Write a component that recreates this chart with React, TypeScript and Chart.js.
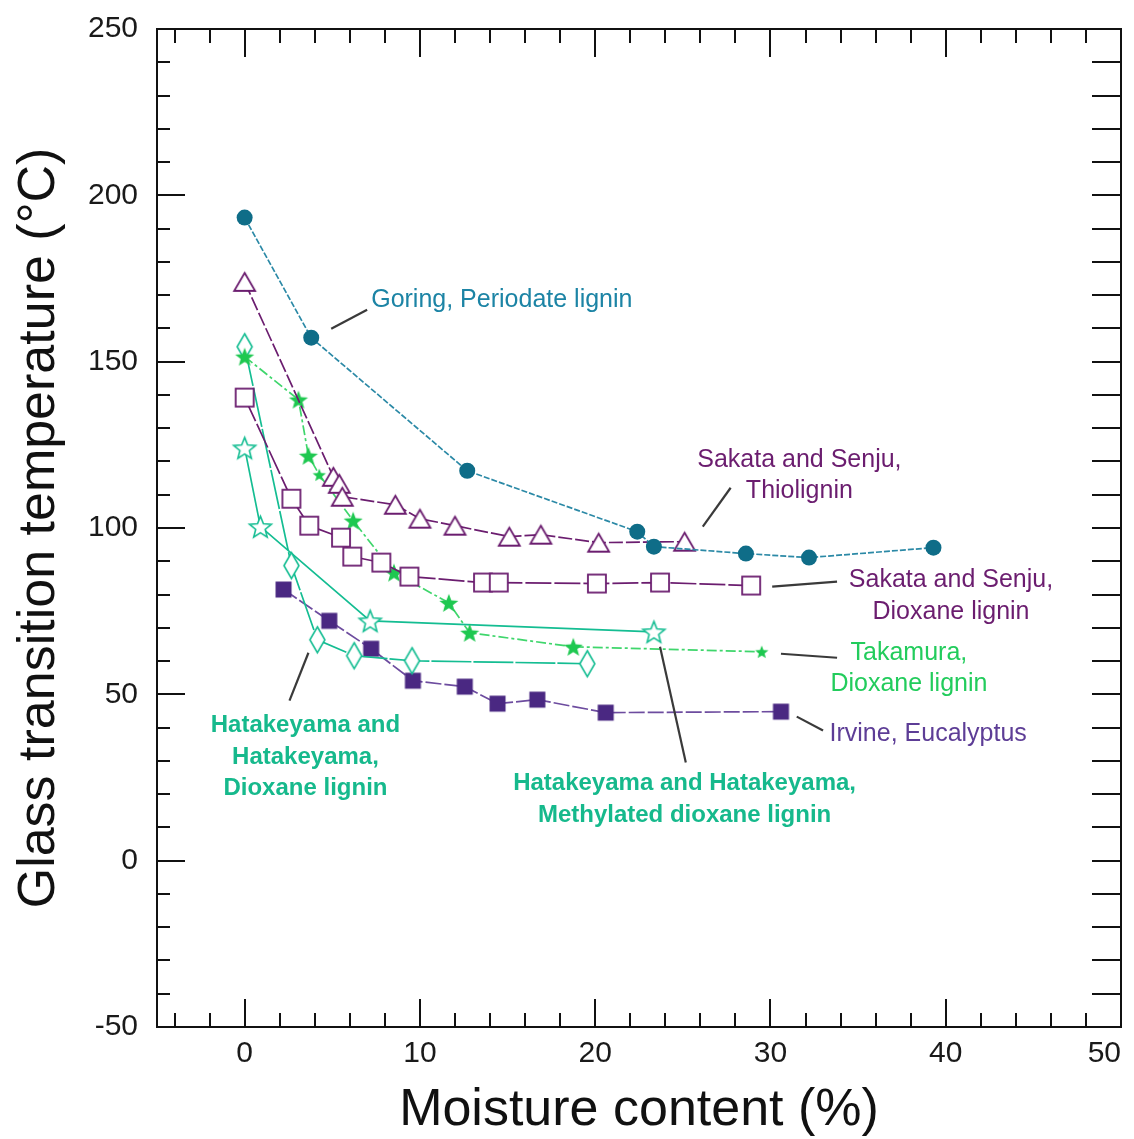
import React, { useEffect, useRef } from 'react';
import { Chart, registerables } from 'chart.js';

Chart.register(...registerables);

const FONT = '"Liberation Sans", Arial, Helvetica, sans-serif';

// ---------- data (moisture content %, Tg °C) ----------
const goringX = [0, 3.8, 12.7, 22.4, 23.35, 28.6, 32.2, 39.3];
const goringY = [193.3, 157.2, 117.2, 98.9, 94.4, 92.3, 91.1, 94.1];

const thioX = [0, 5.06, 5.4, 5.57, 8.6, 10.0, 12.0, 15.1, 16.9, 20.2, 25.1];
const thioY = [174, 115.4, 113.3, 109.4, 107.0, 102.8, 100.7, 97.4, 98.0, 95.6, 95.9];

const sakDioxX = [0, 2.67, 3.69, 5.5, 6.14, 7.8, 9.4, 13.6, 14.5, 20.1, 23.7, 28.9];
const sakDioxY = [139.2, 108.8, 100.7, 97.1, 91.4, 89.6, 85.4, 83.6, 83.6, 83.3, 83.6, 82.7];

const takX = [0, 3.07, 3.64, 4.26, 6.19, 8.52, 11.65, 12.84, 18.75, 29.5];
const takY = [151.5, 138.6, 121.7, 116.0, 102.2, 86.6, 77.5, 68.5, 64.3, 62.8];

const hatDioxX = [0, 2.67, 4.15, 6.25, 9.55, 19.55];
const hatDioxY = [154.5, 88.7, 66.4, 61.6, 60.1, 59.2];

const hatMethX = [0, 0.9, 7.16, 23.35];
const hatMethY = [124.1, 100.4, 72.1, 68.8];

const irvX = [2.22, 4.83, 7.22, 9.6, 12.56, 14.43, 16.7, 20.6, 30.6];
const irvY = [81.5, 72.1, 63.7, 54.1, 52.3, 47.2, 48.4, 44.5, 44.8];

const xTickLabels = ['0', '10', '20', '30', '40', '50'];
const yTickLabels = ['-50', '0', '50', '100', '150', '200', '250'];

const xTitle = 'Moisture content (%)';
const yTitle = 'Glass transition temperature (°C)';

// ---------- colours ----------
const C_GORING = '#0f6d88';
const C_GORING_LINE = '#2b89a6';
const C_GORING_TEXT = '#1c84a5';
const C_SAKATA = '#6b1d6f';
const C_TAK = '#1ec850';
const C_TAK_LINE = '#3fd66c';
const C_TAK_TEXT = '#22cc5c';
const C_HAT = '#14bd92';
const C_HAT_TEXT = '#16b98c';
const C_IRV = '#4a2882';
const C_IRV_LINE = '#6d4c9f';
const C_IRV_TEXT = '#5d3d96';
const C_LEADER = '#3a3a3a';

// ---------- annotations (data coordinates) ----------
type Annot = {
  lines: string[];
  color: string;
  x: number;
  y: number;
  align: CanvasTextAlign;
  bold?: boolean;
  leader: [number, number, number, number];
};

const annotations: Annot[] = [
  { lines: ['Goring, Periodate lignin'], color: C_GORING_TEXT, x: 7.22, y: 168.6, align: 'left', leader: [4.94, 159.9, 6.99, 165.6] },
  { lines: ['Sakata and Senju,', 'Thiolignin'], color: C_SAKATA, x: 31.65, y: 120.5, align: 'center', leader: [26.14, 100.4, 27.73, 112.1] },
  { lines: ['Sakata and Senju,', 'Dioxane lignin'], color: C_SAKATA, x: 40.3, y: 84.2, align: 'center', leader: [30.1, 82.4, 33.8, 83.9] },
  { lines: ['Takamura,', 'Dioxane lignin'], color: C_TAK_TEXT, x: 37.9, y: 62.5, align: 'center', leader: [30.6, 62.2, 33.8, 61.0] },
  { lines: ['Irvine, Eucalyptus'], color: C_IRV_TEXT, x: 39.0, y: 37.9, align: 'center', leader: [31.5, 43.3, 33.0, 39.1] },
  { lines: ['Hatakeyama and', 'Hatakeyama,', 'Dioxane lignin'], color: C_HAT_TEXT, x: 3.47, y: 40.6, align: 'center', bold: true, leader: [2.56, 48.1, 3.64, 62.5] },
  { lines: ['Hatakeyama and Hatakeyama,', 'Methylated dioxane lignin'], color: C_HAT_TEXT, x: 25.1, y: 23.1, align: 'center', bold: true, leader: [23.7, 64.3, 25.17, 29.5] },
];

// ---------- marker images ----------
function newCanvas(w: number, h: number) {
  const c = document.createElement('canvas');
  c.width = w;
  c.height = h;
  return c;
}

function makeStar(outer: number, inner: number, fill: string, stroke: string | null, lw: number) {
  const pad = Math.ceil(lw) + 1;
  const size = Math.ceil(outer * 2 + pad * 2);
  const c = newCanvas(size, size);
  const ctx = c.getContext('2d')!;
  const cx = size / 2;
  const cy = size / 2 + outer * 0.1;
  ctx.beginPath();
  for (let i = 0; i < 10; i++) {
    const r = i % 2 === 0 ? outer : inner;
    const a = -Math.PI / 2 + (i * Math.PI) / 5;
    const px = cx + r * Math.cos(a);
    const py = cy + r * Math.sin(a);
    if (i === 0) ctx.moveTo(px, py);
    else ctx.lineTo(px, py);
  }
  ctx.closePath();
  ctx.fillStyle = fill;
  ctx.fill();
  if (stroke) {
    ctx.strokeStyle = stroke;
    ctx.lineWidth = lw;
    ctx.lineJoin = 'miter';
    ctx.stroke();
  }
  return c;
}

function makeDiamond(w: number, h: number, fill: string, stroke: string, lw: number) {
  const pad = Math.ceil(lw) + 1;
  const c = newCanvas(w + pad * 2, h + pad * 2);
  const ctx = c.getContext('2d')!;
  const cx = c.width / 2;
  const cy = c.height / 2;
  ctx.beginPath();
  ctx.moveTo(cx, cy - h / 2);
  ctx.lineTo(cx + w / 2, cy);
  ctx.lineTo(cx, cy + h / 2);
  ctx.lineTo(cx - w / 2, cy);
  ctx.closePath();
  ctx.fillStyle = fill;
  ctx.fill();
  ctx.strokeStyle = stroke;
  ctx.lineWidth = lw;
  ctx.stroke();
  return c;
}

function makeTriangle(w: number, h: number, fill: string, stroke: string, lw: number) {
  const pad = Math.ceil(lw) + 1;
  const c = newCanvas(w + pad * 2, h + pad * 2);
  const ctx = c.getContext('2d')!;
  const cx = c.width / 2;
  const cy = c.height / 2;
  ctx.beginPath();
  ctx.moveTo(cx, cy - h / 2);
  ctx.lineTo(cx + w / 2, cy + h / 2);
  ctx.lineTo(cx - w / 2, cy + h / 2);
  ctx.closePath();
  ctx.fillStyle = fill;
  ctx.fill();
  ctx.strokeStyle = stroke;
  ctx.lineWidth = lw;
  ctx.stroke();
  return c;
}

function makeSquare(s: number, fill: string, stroke: string, lw: number) {
  const pad = Math.ceil(lw) + 1;
  const c = newCanvas(s + pad * 2, s + pad * 2);
  const ctx = c.getContext('2d')!;
  ctx.fillStyle = fill;
  ctx.fillRect(pad, pad, s, s);
  ctx.strokeStyle = stroke;
  ctx.lineWidth = lw;
  ctx.strokeRect(pad, pad, s, s);
  return c;
}

function zip(xs: number[], ys: number[]) {
  return xs.map((x, i) => ({ x, y: ys[i] }));
}

// ---------- plugins ----------
const framePlugin = {
  id: 'frameTicks',
  afterDraw(chart: any) {
    const { ctx, chartArea } = chart;
    const xs = chart.scales.x;
    const ys = chart.scales.y;
    const { left, right, top, bottom } = chartArea;
    ctx.save();
    ctx.strokeStyle = '#111';
    ctx.lineWidth = 2;
    ctx.strokeRect(left, top, right - left, bottom - top);
    ctx.lineWidth = 2;
    ctx.beginPath();
    for (let v = -4; v < 50; v += 2) {
      const px = Math.round(xs.getPixelForValue(v));
      const major = v % 10 === 0;
      const len = major ? 28 : 14;
      ctx.moveTo(px, bottom);
      ctx.lineTo(px, bottom - len);
      ctx.moveTo(px, top);
      ctx.lineTo(px, top + len);
    }
    for (let v = -40; v < 250; v += 10) {
      const py = Math.round(ys.getPixelForValue(v));
      const major = v % 50 === 0;
      const len = major ? 28 : 13;
      ctx.moveTo(left, py);
      ctx.lineTo(left + len, py);
      ctx.moveTo(right, py);
      ctx.lineTo(right - 29, py);
    }
    ctx.stroke();
    ctx.restore();
  },
};

const annotationPlugin = {
  id: 'annots',
  afterDatasetsDraw(chart: any) {
    const { ctx } = chart;
    const xs = chart.scales.x;
    const ys = chart.scales.y;
    ctx.save();
    for (const a of annotations) {
      const [x1, y1, x2, y2] = a.leader;
      ctx.strokeStyle = C_LEADER;
      ctx.lineWidth = 2.2;
      ctx.beginPath();
      ctx.moveTo(xs.getPixelForValue(x1), ys.getPixelForValue(y1));
      ctx.lineTo(xs.getPixelForValue(x2), ys.getPixelForValue(y2));
      ctx.stroke();
      ctx.fillStyle = a.color;
      ctx.font = (a.bold ? 'bold 24px ' : '25px ') + FONT;
      ctx.textAlign = a.align;
      ctx.textBaseline = 'middle';
      const px = xs.getPixelForValue(a.x);
      const py0 = ys.getPixelForValue(a.y);
      a.lines.forEach((line, i) => {
        ctx.fillText(line, px, py0 + i * 31.5);
      });
    }
    ctx.restore();
  },
};

export default function App() {
  const ref = useRef<HTMLCanvasElement | null>(null);

  useEffect(() => {
    if (!ref.current) return;

    const starFilled = makeStar(10, 4.2, C_TAK, null, 0);
    const starSmall = makeStar(7, 3, C_TAK, null, 0);
    const starOpen = makeStar(11.5, 5, '#ffffff', C_HAT, 1.6);
    const diamond = makeDiamond(15, 26, '#ffffff', C_HAT, 1.6);
    const triangle = makeTriangle(21, 18, '#ffffff', C_SAKATA, 1.8);
    const openSquare = makeSquare(18, '#ffffff', C_SAKATA, 1.8);
    const filledSquare = makeSquare(15, C_IRV, C_IRV, 1);

    const takStyles = takX.map((_, i) => (i === 3 || i === takX.length - 1 ? starSmall : starFilled));

    const common = { showLine: true, borderWidth: 1.7, tension: 0, clip: false as any };

    const chart = new Chart(ref.current, {
      type: 'scatter',
      data: {
        datasets: [
          {
            ...common,
            label: 'Goring, Periodate lignin',
            data: zip(goringX, goringY),
            borderColor: C_GORING_LINE,
            borderDash: [6, 2],
            pointStyle: 'circle',
            pointRadius: 8,
            pointBackgroundColor: C_GORING,
            pointBorderColor: C_GORING,
            pointBorderWidth: 0,
          },
          {
            ...common,
            label: 'Sakata and Senju, Thiolignin',
            data: zip(thioX, thioY),
            borderColor: C_SAKATA,
            borderDash: [14, 3],
            pointStyle: triangle as any,
            pointRadius: 9,
          },
          {
            ...common,
            label: 'Sakata and Senju, Dioxane lignin',
            data: zip(sakDioxX, sakDioxY),
            borderColor: C_SAKATA,
            borderDash: [26, 3],
            pointStyle: openSquare as any,
            pointRadius: 9,
          },
          {
            ...common,
            label: 'Takamura, Dioxane lignin',
            data: zip(takX, takY),
            borderColor: C_TAK_LINE,
            borderDash: [10, 3, 3, 3],
            pointStyle: takStyles as any,
            pointRadius: 9,
          },
          {
            ...common,
            label: 'Hatakeyama and Hatakeyama, Dioxane lignin',
            data: zip(hatDioxX, hatDioxY),
            borderColor: C_HAT,
            borderDash: [40, 2],
            pointStyle: diamond as any,
            pointRadius: 9,
          },
          {
            ...common,
            label: 'Hatakeyama and Hatakeyama, Methylated dioxane lignin',
            data: zip(hatMethX, hatMethY),
            borderColor: C_HAT,
            pointStyle: starOpen as any,
            pointRadius: 10,
          },
          {
            ...common,
            label: 'Irvine, Eucalyptus',
            data: zip(irvX, irvY),
            borderColor: C_IRV_LINE,
            borderDash: [16, 3],
            pointStyle: filledSquare as any,
            pointRadius: 8,
          },
        ],
      },
      options: {
        animation: false,
        responsive: false,
        maintainAspectRatio: false,
        layout: { padding: { top: 29, right: 13, left: 0, bottom: 0 } },
        plugins: {
          legend: { display: false },
          tooltip: { enabled: false },
        },
        scales: {
          x: {
            type: 'linear',
            min: -5,
            max: 50,
            grid: { display: false, drawTicks: false },
            border: { display: true, color: '#111', width: 2 },
            ticks: {
              stepSize: 10,
              padding: 9,
              align: 'inner',
              color: '#1a1a1a',
              font: { family: FONT, size: 30 },
              callback: (v: any) => {
                const s = String(v);
                return xTickLabels.includes(s) ? s : '';
              },
            },
            title: {
              display: true,
              text: xTitle,
              color: '#111',
              font: { family: FONT, size: 52, lineHeight: 1 },
              padding: { top: 0, bottom: 2 },
            },
            afterFit: (s: any) => {
              s.height = 112;
              s.paddingLeft = 0;
              s.paddingRight = 0;
            },
          },
          y: {
            type: 'linear',
            min: -50,
            max: 250,
            grid: { display: false, drawTicks: false },
            border: { display: true, color: '#111', width: 2 },
            ticks: {
              stepSize: 50,
              padding: 19,
              color: '#1a1a1a',
              font: { family: FONT, size: 30 },
              callback: (v: any) => {
                const s = String(v);
                return yTickLabels.includes(s) ? s : '';
              },
            },
            title: {
              display: true,
              text: yTitle,
              color: '#111',
              font: { family: FONT, size: 52, lineHeight: 1 },
              padding: { top: 14, bottom: 0 },
            },
            afterFit: (s: any) => {
              s.width = 157;
              s.paddingTop = 0;
              s.paddingBottom = 0;
            },
          },
        },
      } as any,
      plugins: [annotationPlugin, framePlugin],
    });

    return () => chart.destroy();
  }, []);

  return (
    <div style={{ position: 'absolute', left: 0, top: 0, width: 1134, height: 1139, background: '#fff' }}>
      <canvas ref={ref} width={1134} height={1139} style={{ display: 'block', width: 1134, height: 1139 }} />
    </div>
  );
}
